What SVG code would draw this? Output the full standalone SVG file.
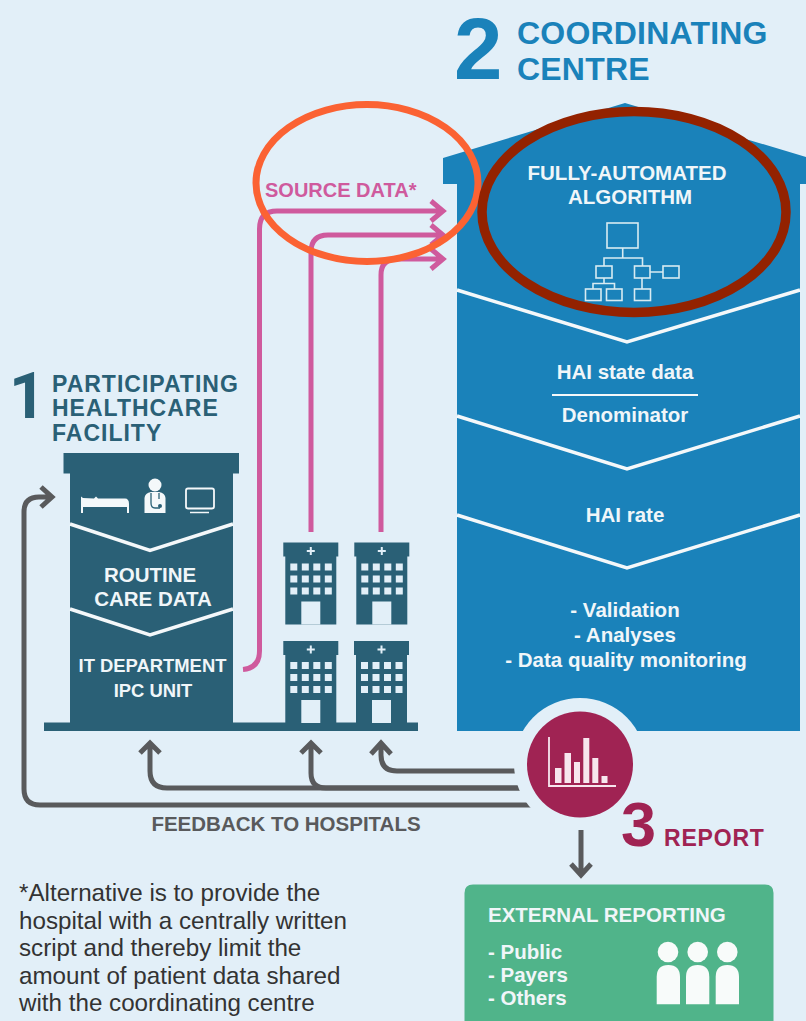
<svg xmlns="http://www.w3.org/2000/svg" width="806" height="1021" viewBox="0 0 806 1021">
<style>
text{font-family:"Liberation Sans",Arial,sans-serif;font-weight:700}
.w{fill:#f0f6f9;font-size:20.500px}
.s{font-size:18.400px}
.m{text-anchor:middle}
.t1{fill:#2a6076;font-size:23px;letter-spacing:1px}
.t2{fill:#1a82ba;font-size:32px;letter-spacing:.2px}
.pk{fill:none;stroke:#cf5a9d;stroke-width:5}
.gy{fill:none;stroke:#595a5c;stroke-width:5}
.ic{fill:none;stroke:#d8ebf2;stroke-width:1.600}
.win{fill:#e2eff8}
.sep{fill:none;stroke:#f4f8fa;stroke-width:3.500}
.fn{font-size:24.200px;fill:#333;font-weight:400}
</style>
<defs>
<g id="hosp">
<path fill="#2a6076" d="M0 0H55V14H53V82H2V14H0Z"/>
<path stroke="#e2eff8" stroke-width="2" d="M27.500 4.500V12.500M23.500 8.500H31.500"/>
<g class="win">
<rect x="7" y="21" width="7" height="7"/><rect x="18.500" y="21" width="7" height="7"/><rect x="30" y="21" width="7" height="7"/><rect x="41.500" y="21" width="7" height="7"/>
<rect x="7" y="33" width="7" height="7"/><rect x="18.500" y="33" width="7" height="7"/><rect x="30" y="33" width="7" height="7"/><rect x="41.500" y="33" width="7" height="7"/>
<rect x="7" y="45" width="7" height="7"/><rect x="18.500" y="45" width="7" height="7"/><rect x="30" y="45" width="7" height="7"/><rect x="41.500" y="45" width="7" height="7"/>
<rect x="18" y="59" width="19" height="23"/>
</g>
</g>
</defs>
<rect width="806" height="1021" fill="#e2eff8"/>

<g id="coordinating-title">
<text x="454" y="79" font-size="87" fill="#1a82ba">2</text>
<text x="517" y="44" class="t2">COORDINATING</text>
<text x="517" y="80" class="t2">CENTRE</text>
</g>

<g id="coordinating-centre">
<path fill="#1a82ba" d="M443 158L625 103L806 157V184H800V731H457V184H443Z"/>
<path class="sep" d="M457 290L627 342L800 290M457 416L627 469L800 416M457 515L627 568L800 515"/>
<text x="627" y="179.500" class="w m">FULLY-AUTOMATED</text>
<text x="630" y="203.500" class="w m">ALGORITHM</text>
<g class="ic">
<rect x="607" y="223" width="31" height="25"/>
<path d="M622.700 248V258M604 266V258H642.500V266M604 278V283.500M593 289V283.500H614.500V289M642 278V289M650 272H663"/>
<rect x="596" y="266" width="16" height="12"/><rect x="634.500" y="266" width="15.500" height="12"/><rect x="663" y="266" width="16" height="12"/>
<rect x="585.500" y="289" width="15.500" height="11.500"/><rect x="606.500" y="289" width="15.500" height="11.500"/><rect x="634.500" y="289" width="16" height="11.500"/>
</g>
<text x="625" y="379" class="w m">HAI state data</text>
<path d="M552 395H698" stroke="#f4f8fa" stroke-width="2"/>
<text x="625" y="422" class="w m">Denominator</text>
<text x="625" y="522" class="w m">HAI rate</text>
<text x="625" y="617" class="w m">- Validation</text>
<text x="625" y="642" class="w m">- Analyses</text>
<text x="626" y="667" class="w m">- Data quality monitoring</text>
</g>

<g id="participating-title">
<text x="9" y="418" font-size="64" fill="#2a6076" style="font-family:Roboto,'Liberation Sans',sans-serif">1</text>
<text x="52" y="392" class="t1">PARTICIPATING</text>
<text x="52" y="416" class="t1">HEALTHCARE</text>
<text x="52" y="441" class="t1">FACILITY</text>
</g>

<g id="facility">
<path fill="#2a6076" d="M63.500 453H239V473.500H233V725H70V473.500H63.500Z"/>
<rect x="44" y="722.500" width="374" height="8.500" fill="#2a6076"/>
<path class="sep" d="M70 524L150 550.500L233 524M70 609L150 635L233 609"/>
<path fill="#f4f8fa" d="M81 496.500L83 498L94 498.500L96 496.500L98 498.500H125Q129 498.500 129 504V513H127V507H83V513H81Z"/>
<circle cx="155" cy="485" r="6.500" fill="#f4f8fa"/>
<path fill="#f4f8fa" d="M144.500 513V498Q145 493 151 492H159Q165 493 165.500 498V513Z"/>
<path fill="none" stroke="#2a6076" stroke-width="1.300" d="M151 493V503Q151 508 155 508H160M159 493V499"/>
<circle cx="160" cy="506" r="2" fill="#2a6076"/>
<rect x="186" y="488.500" width="28" height="20" rx="2" fill="none" stroke="#f4f8fa" stroke-width="1.800"/>
<path stroke="#f4f8fa" stroke-width="1.500" d="M190 512.500H209"/>
<text x="150" y="582" class="w m">ROUTINE</text>
<text x="153" y="606" class="w m">CARE DATA</text>
<text x="152.500" y="672" class="w m s">IT DEPARTMENT</text>
<text x="153" y="697" class="w m s">IPC UNIT</text>
</g>

<g id="hospital-1"><use href="#hosp" x="283.300" y="542.500"/></g>
<g id="hospital-2"><use href="#hosp" x="354.300" y="542.500"/></g>
<g id="hospital-3"><use href="#hosp" x="283.300" y="641"/></g>
<g id="hospital-4"><use href="#hosp" x="354" y="641"/></g>

<g id="connectors">
<path class="pk" d="M243 669.500Q259.500 668 259.500 651V229Q259.500 211 277 211H442M431 201L443 211L431 221"/>
<path class="pk" d="M311 532V252Q311 235 328 235H442M431 225L443 235L431 245"/>
<path class="pk" d="M381 532V275Q381 259 397 259H442M431 249L443 259L431 269"/>
<path class="gy" d="M545 805H40Q24 805 24 789V512Q24 497 39 497H51M41 487L52 497L41 507"/>
<path class="gy" d="M545 788H167Q150 788 150 771V743M140 753L150 743L160 753"/>
<path class="gy" d="M526 788H326Q311 788 311 773V743M301 753L311 743L321 753"/>
<path class="gy" d="M545 771H397Q381 771 381 755V744M371 754L381 743L391 754"/>
<path class="gy" d="M581 830V874M571 864L581 875L591 864"/>
</g>

<g id="report">
<circle cx="580" cy="764" r="66" fill="#e2eff8"/>
<circle cx="580" cy="764.500" r="53" fill="#a02353"/>
<path fill="none" stroke="#f7e6ee" stroke-width="1.800" d="M549 737V786H616"/>
<path fill="#f7e6ee" d="M555 768H561.500V783H555ZM564.500 753H571V783H564.500ZM574 762H580V783H574ZM583.300 738H589.300V783H583.300ZM592.300 758H598.300V783H592.300ZM601.500 776H607.500V783H601.500Z"/>
<text x="621" y="846" font-size="63" fill="#a02353">3</text>
<text x="664" y="846" font-size="23" fill="#a02353" letter-spacing=".8">REPORT</text>
<text x="286" y="831" font-size="20.500" fill="#595a5c" text-anchor="middle">FEEDBACK TO HOSPITALS</text>
</g>

<g id="source-label">
<text x="265" y="197" font-size="20" fill="#cf5a9d">SOURCE DATA*</text>
</g>

<g id="footnote">
<text x="19" y="901" class="fn">*Alternative is to provide the</text>
<text x="19" y="929" class="fn">hospital with a centrally written</text>
<text x="19" y="956" class="fn">script and thereby limit the</text>
<text x="19" y="984" class="fn">amount of patient data shared</text>
<text x="19" y="1011" class="fn">with the coordinating centre</text>
</g>

<g id="external-reporting">
<path fill="#50b48a" d="M464.500 893Q464.500 884.500 473 884.500H765Q773.500 884.500 773.500 893V1021H464.500Z"/>
<text x="488" y="922" class="w">EXTERNAL REPORTING</text>
<text x="488" y="959" class="w">- Public</text>
<text x="488" y="982" class="w">- Payers</text>
<text x="488" y="1005" class="w">- Others</text>
<g fill="#f8fbfa">
<circle cx="668" cy="952" r="10.300"/><circle cx="697.700" cy="952" r="10.300"/><circle cx="727.300" cy="952" r="10.300"/>
<path d="M656.700 1004.300V977Q656.700 965 668.300 965Q680 965 680 977V1004.300Z"/>
<path d="M686 1004.300V977Q686 965 697.700 965Q709.300 965 709.300 977V1004.300Z"/>
<path d="M715.700 1004.300V977Q715.700 965 727.300 965Q739 965 739 977V1004.300Z"/>
</g>
</g>

<g id="highlights" fill="none">
<ellipse cx="367" cy="183" rx="111" ry="78.500" stroke="#fb6233" stroke-width="7"/>
<ellipse cx="634" cy="212" rx="152" ry="100.500" stroke="#932200" stroke-width="9.500"/>
</g>
</svg>
